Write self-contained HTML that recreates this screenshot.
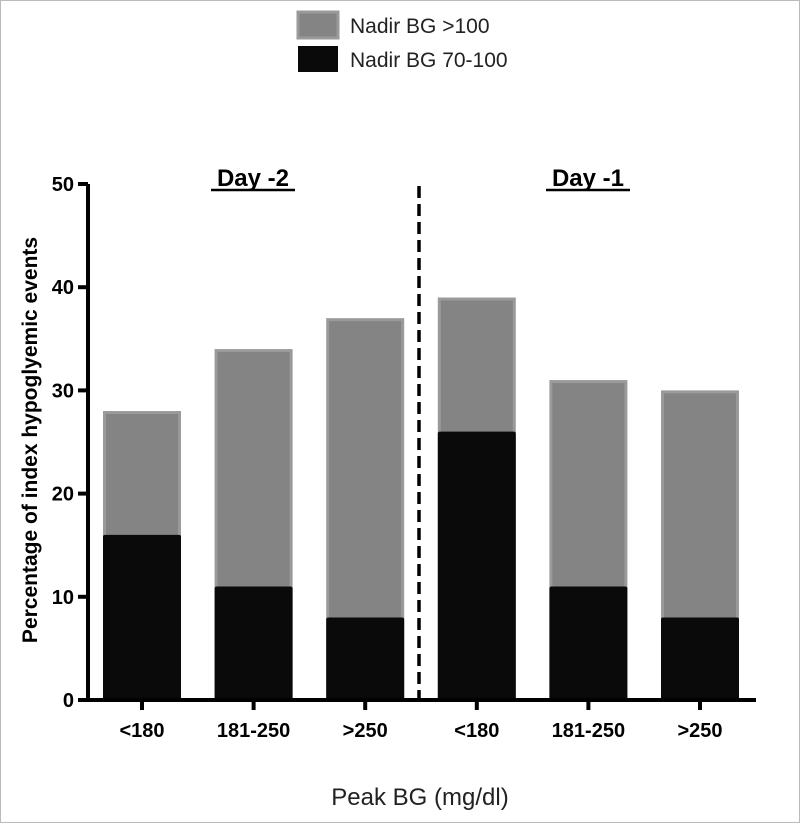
<!DOCTYPE html>
<html><head><style>
body{margin:0;background:#fff;}
text{font-family:"Liberation Sans",Arial,sans-serif;}
</style></head><body>
<svg id="chart" width="800" height="823" xmlns="http://www.w3.org/2000/svg">
<rect x="0" y="0" width="800" height="823" fill="#fff"/>
<rect x="0.5" y="0.5" width="799" height="822" fill="none" stroke="#bbb"/>
<g>
<rect x="298" y="12" width="40" height="26" fill="#848484" stroke="#9a9a9a" stroke-width="3"/>
<text x="350" y="33" font-size="21" fill="#222">Nadir BG &gt;100</text>
<rect x="298" y="46" width="40" height="26" fill="#0a0a0a"/>
<text x="350" y="67" font-size="21" fill="#222">Nadir BG 70-100</text>
</g>
<g id="bars"></g>
<g id="axes"></g>
<line x1="419" y1="186" x2="419" y2="701" stroke="#000" stroke-width="3.5" stroke-dasharray="12,6"/>
<text x="253" y="186" font-size="24" font-weight="bold" text-anchor="middle">Day -2</text>
<text x="588" y="186" font-size="24" font-weight="bold" text-anchor="middle">Day -1</text>
<line x1="211" y1="190" x2="295" y2="190" stroke="#000" stroke-width="2.5"/>
<line x1="546" y1="190" x2="630" y2="190" stroke="#000" stroke-width="2.5"/>
<text x="0" y="0" transform="translate(37,440) rotate(-90)" font-size="21" font-weight="bold" text-anchor="middle">Percentage of index hypoglyemic events</text>
<text x="420" y="805" font-size="24" text-anchor="middle" fill="#222">Peak BG (mg/dl)</text>
</svg>
<script>
const categories = ["<180","181-250",">250","<180","181-250",">250"];
const totalValues = [28,34,37,39,31,30];
const blackValues = [16,11,8,26,11,8];
const yTicks = [0,10,20,30,40,50];
const NS="http://www.w3.org/2000/svg";
const y0=700, yTop=184, yMax=50;
function yScale(v){return y0-(v/yMax)*(y0-yTop);}
function xCenter(i){return 142+i*111.6;}
const bw=78;
const bars=document.getElementById('bars');
const axes=document.getElementById('axes');
function mk(tag,attrs,parent){const e=document.createElementNS(NS,tag);for(const k in attrs)e.setAttribute(k,attrs[k]);parent.appendChild(e);return e;}
categories.forEach((c,i)=>{
  const cx=xCenter(i);
  const g=mk('rect',{x:cx-bw/2+1.5,y:yScale(totalValues[i])+1.5,width:bw-3,height:y0-yScale(totalValues[i])-1.5,fill:'#848484',stroke:'#9a9a9a','stroke-width':3},bars);
  
  
  const b=mk('rect',{x:cx-bw/2,y:yScale(blackValues[i]),width:bw,height:y0-yScale(blackValues[i]),fill:'#0a0a0a',rx:2},bars);
  
  
  const t=mk('line',{x1:cx,y1:y0,x2:cx,y2:y0+10,stroke:'#000','stroke-width':4},axes);
  
  
  const l=mk('text',{x:cx,y:737,'font-size':20,'font-weight':'bold','text-anchor':'middle'},axes);
  l.textContent=c;
  
  
});
const ya=mk('line',{x1:88,y1:yTop,x2:88,y2:y0+2,stroke:'#000','stroke-width':4},axes);


const xa=mk('line',{x1:86,y1:y0,x2:756,y2:y0,stroke:'#000','stroke-width':4},axes);


yTicks.forEach(v=>{
  const y=yScale(v);
  const t=mk('line',{x1:78,y1:y,x2:88,y2:y,stroke:'#000','stroke-width':4},axes);
  
  
  const l=mk('text',{x:74,y:y+7,'font-size':20,'font-weight':'bold','text-anchor':'end'},axes);
  l.textContent=v;
  
  
});
</script>
</body></html>
